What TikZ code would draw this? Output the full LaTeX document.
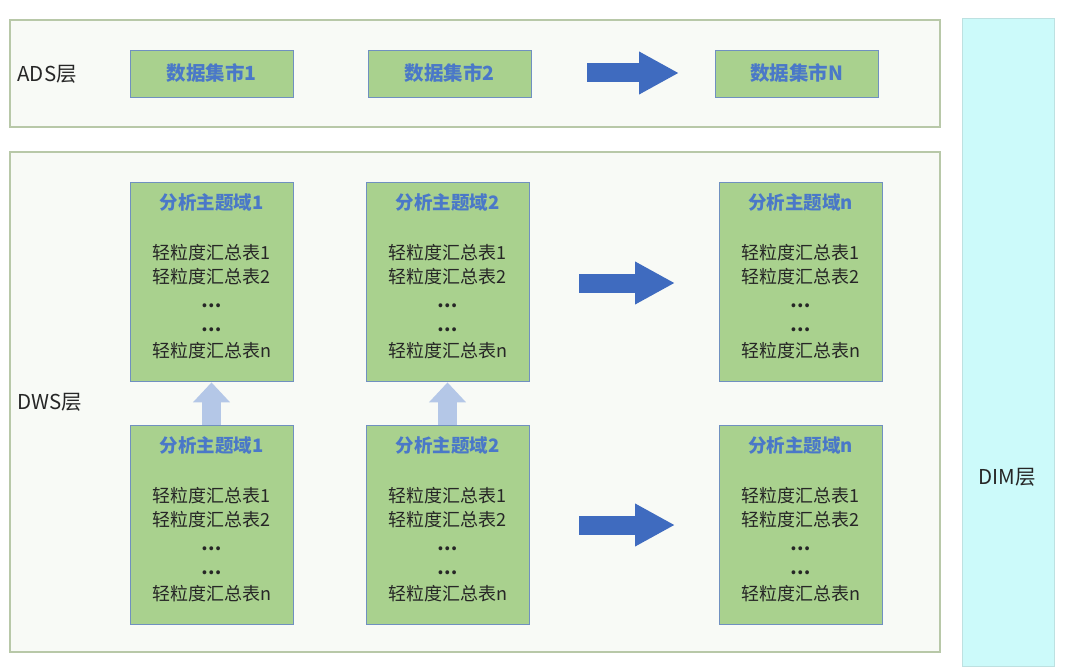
\documentclass[tikz,border=0pt]{standalone}
\usepackage{fontspec}
\setmainfont{Noto Sans CJK SC}
\usepackage{xcolor}
\usepackage{tikz}
\usetikzlibrary{arrows.meta,positioning}

\definecolor{zgreen}{HTML}{A9D18E}
\definecolor{zedge}{HTML}{7090C0}
\definecolor{ztitle}{HTML}{4A78C8}
\definecolor{zframe}{HTML}{B8C8A8}
\definecolor{zpale}{HTML}{F8FAF6}
\definecolor{zcyan}{HTML}{CCFAFA}
\definecolor{zarrow}{HTML}{3F6BBF}
\definecolor{zup}{HTML}{B4C7E7}

% text of one subject box
\newcommand{\ztext}[1]{{\color{ztitle}\fontsize{18.5}{24}\selectfont\bfseries 分析主题域#1}\\[26pt]
  轻粒度汇总表1\\ 轻粒度汇总表2\\ {\bfseries …}\\ {\bfseries …}\\[2pt] 轻粒度汇总表n}

\begin{document}
\begin{tikzpicture}[x=1pt,y=-1pt,
    frame/.style={draw=zframe,fill=zpale,line width=1.2pt},
    mart/.style={draw=zedge,fill=zgreen,line width=0.8pt,minimum width=163pt,minimum height=47pt,
      font=\fontsize{19.5}{22}\selectfont\bfseries,text=ztitle},
    subj/.style={draw=zedge,fill=zgreen,line width=0.8pt,minimum width=163pt,minimum height=199pt},
    subjtxt/.style={align=center,anchor=north,font=\fontsize{18}{24}\selectfont,text=black!85},
    layer/.style={font=\fontsize{20.5}{22}\selectfont,text=black!85,anchor=west},
    bigarrow/.style={zarrow,line width=19pt,-{Triangle[length=40pt,width=40pt]}},
    uparrow/.style={zup,line width=19pt,-{Triangle[length=20pt,width=36pt]}}]
  \useasboundingbox (0,0) rectangle (1083,666);

  % layers
  \node[frame,minimum width=930pt,minimum height=107pt] (ads) at (475,73.5) {};
  \node[frame,minimum width=930pt,minimum height=500pt] (dws) at (475,402) {};
  \node[fill=zcyan,draw=zcyan!80!gray,minimum width=92pt,minimum height=648pt] (dim) at (1008,342) {};
  \node[layer] (adsl) at (14,74) {ADS层};
  \node[layer] (dwsl) at (14,402) {DWS层};
  \node[layer,anchor=center] (diml) at (1007,477) {DIM层};

  % ADS
  \node[mart] (m1) at (211.5,73.5) {数据集市1};
  \node[mart] (m2) at (449.5,73.5) {数据集市2};
  \node[mart] (mn) at (796.5,73.5) {数据集市N};
  \coordinate (ma) at (587,73);
  \coordinate (mb) at (679,73);
  \draw[bigarrow] (ma) -- (mb);

  % DWS, upper row
  \node[subj] (u1) at (211.5,281.5) {};
  \node[subj] (u2) at (447.5,281.5) {};
  \node[subj] (un) at (800.5,281.5) {};
  \node[subjtxt,below=8pt of u1.north] {\ztext{1}};
  \node[subjtxt,below=8pt of u2.north] {\ztext{2}};
  \node[subjtxt,below=8pt of un.north] {\ztext{n}};

  % DWS, lower row
  \node[subj] (l1) at (211.5,524.5) {};
  \node[subj] (l2) at (447.5,524.5) {};
  \node[subj] (ln) at (800.5,524.5) {};
  \node[subjtxt,below=8pt of l1.north] {\ztext{1}};
  \node[subjtxt,below=8pt of l2.north] {\ztext{2}};
  \node[subjtxt,below=8pt of ln.north] {\ztext{n}};

  \draw[uparrow] (l1.north) -- ([yshift=-1pt]u1.south);
  \draw[uparrow] (l2.north) -- ([yshift=-1pt]u2.south);

  \coordinate (ua) at (579,283);
  \coordinate (ub) at (675,283);
  \coordinate (la) at (579,525);
  \coordinate (lb) at (675,525);
  \draw[bigarrow] (ua) -- (ub);
  \draw[bigarrow] (la) -- (lb);
\end{tikzpicture}
\end{document}
